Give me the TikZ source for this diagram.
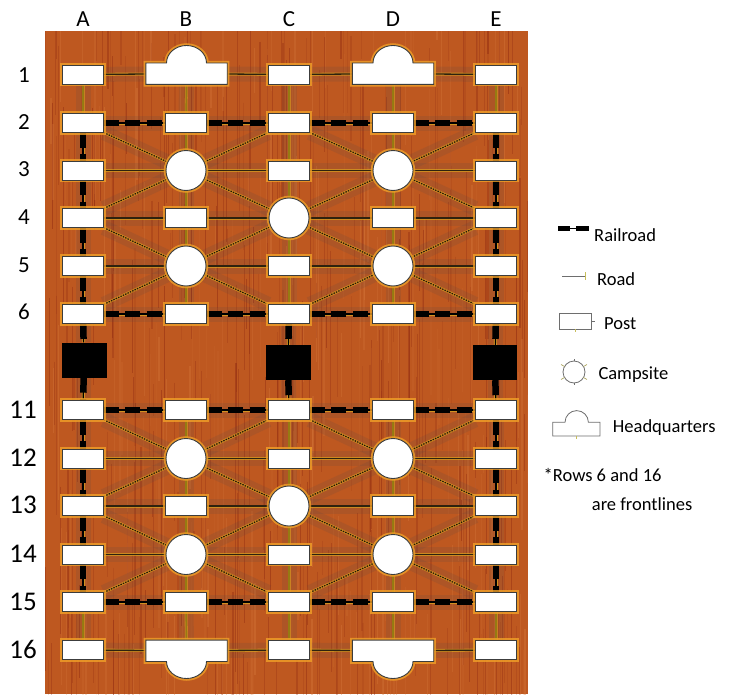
\documentclass[tikz,border=0pt]{standalone}
\usepackage{fontspec}
\setmainfont{Carlito}
\usetikzlibrary{calc}
\definecolor{wood}{RGB}{190,88,32}
\definecolor{grainD}{RGB}{140,38,16}
\definecolor{grainL}{RGB}{214,120,60}
\definecolor{glowY}{RGB}{226,172,30}
\definecolor{glowO}{RGB}{240,160,40}
\definecolor{roadC}{RGB}{46,34,14}
\definecolor{vroadC}{RGB}{150,122,18}
\definecolor{dotC}{RGB}{34,22,6}
\definecolor{boxC}{RGB}{60,60,60}
\definecolor{haloC}{RGB}{90,70,70}
\definecolor{legC}{RGB}{110,110,110}
\definecolor{tickC}{RGB}{200,190,90}
\pgfdeclarelayer{woodlayer}
\pgfdeclarelayer{halolayer}
\pgfdeclarelayer{linelayer}
\pgfsetlayers{woodlayer,halolayer,linelayer,main}
\tikzset{
  post/.style={rectangle, fill=white, draw=boxC, line width=0.9pt,
    minimum width=41pt, minimum height=19pt, inner sep=0pt,
    preaction={draw=glowO, line width=4.5pt, draw opacity=0.8}},
  camp/.style={circle, fill=white, draw=boxC, line width=0.9pt,
    minimum size=40pt, inner sep=0pt,
    preaction={draw=glowO, line width=4.5pt, draw opacity=0.8}},
  hq/.style={rectangle, draw=none, fill=none, minimum width=81pt,
    minimum height=21pt, inner sep=0pt},
  hqshape/.style={fill=white, draw=boxC, line width=0.9pt,
    preaction={draw=glowO, line width=4.5pt, draw opacity=0.8}},
  kbox/.style={rectangle, fill=black, minimum width=45pt,
    minimum height=35pt, inner sep=0pt},
  halo/.style={draw=haloC, line width=15pt, draw opacity=0.16},
  road/.style={draw=roadC, line width=1.3pt,
    preaction={draw=glowY, line width=3pt, draw opacity=0.6}},
  vroad/.style={draw=vroadC, line width=1.4pt,
    preaction={draw=glowY, line width=3pt, draw opacity=0.5}},
  rail/.style={draw=black, line width=6.5pt, dash pattern=on 15pt off 6.5pt,
    preaction={draw=glowY, solid, line width=3pt, draw opacity=0.7},
    preaction={draw=black, solid, line width=1.2pt}},
  dots/.style={draw=dotC, line width=1.2pt, dash pattern=on 1.4pt off 1.2pt,
    preaction={draw=glowY, solid, line width=2.8pt, draw opacity=0.55}},
  lbl/.style={font=\fontsize{23}{26}\selectfont, inner sep=0pt},
  lblbig/.style={font=\fontsize{27}{30}\selectfont, inner sep=0pt},
  leg/.style={font=\fontsize{18.5}{21}\selectfont, inner sep=0pt, anchor=base west},
  legshape/.style={draw=legC, line width=0.8pt, fill=white},
}
\begin{document}
\begin{tikzpicture}[x=1pt,y=-1pt]
\useasboundingbox (0,0) rectangle (737,696);

% ---------- wood board ----------
\begin{pgfonlayer}{woodlayer}
\begin{scope}
\clip (45,31) rectangle (528,694);
\fill[wood] (45,31) rectangle (528,694);
\pgfmathsetseed{11}
\foreach \i in {1,...,320}{
  \pgfmathsetmacro\xx{45+483*rnd}
  \pgfmathsetmacro\yy{-100+763*rnd}
  \pgfmathsetmacro\ll{30+220*rnd}
  \pgfmathsetmacro\ww{0.4+1.2*rnd}
  \pgfmathsetmacro\oo{0.12+0.33*rnd}
  \draw[grainD, line width=\ww pt, opacity=\oo] (\xx,\yy) -- (\xx,\yy+\ll);
}
\foreach \i in {1,...,200}{
  \pgfmathsetmacro\xx{45+483*rnd}
  \pgfmathsetmacro\yy{-100+763*rnd}
  \pgfmathsetmacro\ll{30+200*rnd}
  \pgfmathsetmacro\ww{0.5+1.4*rnd}
  \pgfmathsetmacro\oo{0.1+0.3*rnd}
  \draw[grainL, line width=\ww pt, opacity=\oo] (\xx,\yy) -- (\xx,\yy+\ll);
}
\end{scope}
\end{pgfonlayer}

% ---------- labels ----------
\foreach \c/\x in {A/83,B/186,C/289,D/393,E/496}
  \node[lbl] (col\c) at (\x,19) {\c};
\foreach \r/\y in {1/75.5,2/122,3/169.5,4/217,5/265,6/312}
  \node[lbl] (row\r) at (24,\y) {\r};
\foreach \r/\y in {11/410,12/457.5,13/505,14/553.5,15/601.5,16/649.5}
  \node[lblbig] (row\r) at (23,\y) {\r};

% ---------- nodes ----------
% row 1
\node[post] (A1) at (83,74.5) {};
\node[hq]   (B1) at (186.5,73.7) {};
\node[post] (C1) at (289,74.5) {};
\node[hq]   (D1) at (393,73.7) {};
\node[post] (E1) at (496,74.5) {};
% all-post rows
\foreach \r/\y in {2/123,6/314,11/410,15/602}{
  \foreach \c/\x in {A/83,B/186,C/289,D/393,E/496}
    \node[post] (\c\r) at (\x,\y) {};
}
% camp rows (B, D camps)
\foreach \r/\y in {3/170.5,5/266,12/458.5,14/554.5}{
  \node[post] (A\r) at (83,\y) {};
  \node[camp] (B\r) at (186,\y) {};
  \node[post] (C\r) at (289,\y) {};
  \node[camp] (D\r) at (393,\y) {};
  \node[post] (E\r) at (496,\y) {};
}
% centre camp rows
\foreach \r/\y in {4/218,13/506}{
  \node[post] (A\r) at (83,\y) {};
  \node[post] (B\r) at (186,\y) {};
  \node[camp] (C\r) at (289,\y) {};
  \node[post] (D\r) at (393,\y) {};
  \node[post] (E\r) at (496,\y) {};
}
% row 16
\node[post] (A16) at (83,650) {};
\node[hq]   (B16) at (186.5,650.8) {};
\node[post] (C16) at (289,650) {};
\node[hq]   (D16) at (393,650.8) {};
\node[post] (E16) at (496,650) {};
% black blocks
\node[kbox] (KA) at (84,360) {};
\node[kbox] (KC) at (288,362.5) {};
\node[kbox, minimum width=44pt] (KE) at (495,362.5) {};

% headquarters outlines
\foreach \n in {B1,D1}
  \path[hqshape] (\n.south west) -- (\n.north west) -- ([xshift=-20pt]\n.north)
    arc[start angle=180, end angle=0, x radius=20pt, y radius=17.5pt]
    -- (\n.north east) -- (\n.south east) -- cycle;
\foreach \n in {B16,D16}
  \path[hqshape] (\n.north west) -- (\n.south west) -- ([xshift=-20pt]\n.south)
    arc[start angle=180, end angle=360, x radius=20pt, y radius=17pt]
    -- (\n.south east) -- (\n.north east) -- cycle;

% ---------- connector lists ----------
\def\roadlist{A1/B1,B1/C1,C1/D1,D1/E1,
  A3/B3,B3/C3,C3/D3,D3/E3,A4/B4,B4/C4,C4/D4,D4/E4,A5/B5,B5/C5,C5/D5,D5/E5,
  A12/B12,B12/C12,C12/D12,D12/E12,A13/B13,B13/C13,C13/D13,D13/E13,
  A14/B14,B14/C14,C14/D14,D14/E14,A16/B16,B16/C16,C16/D16,D16/E16}
\def\vroadlist{A1/A2,B1/B2,C1/C2,D1/D2,E1/E2,
  B2/B3,B3/B4,B4/B5,B5/B6,C2/C3,C3/C4,C4/C5,C5/C6,D2/D3,D3/D4,D4/D5,D5/D6,
  B11/B12,B12/B13,B13/B14,B14/B15,B15/B16,C11/C12,C12/C13,C13/C14,C14/C15,C15/C16,
  D11/D12,D12/D13,D13/D14,D14/D15,D15/D16,A15/A16,E15/E16}
\def\raillist{A2/B2,B2/C2,C2/D2,D2/E2,A6/B6,B6/C6,C6/D6,D6/E6,
  A11/B11,B11/C11,C11/D11,D11/E11,A15/B15,B15/C15,C15/D15,D15/E15,
  A2/A3,A3/A4,A4/A5,A5/A6,A6/KA,KA/A11,A11/A12,A12/A13,A13/A14,A14/A15,
  E2/E3,E3/E4,E4/E5,E5/E6,E6/KE,KE/E11,E11/E12,E12/E13,E13/E14,E14/E15,
  C6/KC,KC/C11}
\def\dotlist{A2/B3,B3/C2,C2/D3,D3/E2,A4/B3,B3/C4,C4/D3,D3/E4,
  A4/B5,B5/C4,C4/D5,D5/E4,A6/B5,B5/C6,C6/D5,D5/E6,
  A11/B12,B12/C11,C11/D12,D12/E11,A13/B12,B12/C13,C13/D12,D12/E13,
  A13/B14,B14/C13,C13/D14,D14/E13,A15/B14,B14/C15,C15/D14,D14/E15}

\begin{pgfonlayer}{halolayer}
\foreach \p/\q in \roadlist {\draw[halo] (\p) -- (\q);}
\foreach \p/\q in \vroadlist {\draw[halo] (\p) -- (\q);}
\foreach \p/\q in \raillist {\draw[halo] (\p) -- (\q);}
\foreach \p/\q in \dotlist {\draw[halo] (\p) -- (\q);}
\end{pgfonlayer}
\begin{pgfonlayer}{linelayer}
\foreach \p/\q in \dotlist {\draw[dots] (\p) -- (\q);}
\foreach \p/\q in \roadlist {\draw[road] (\p) -- (\q);}
\foreach \p/\q in \vroadlist {\draw[vroad] (\p) -- (\q);}
\foreach \p/\q in \raillist {\draw[rail] (\p) -- (\q);}
\end{pgfonlayer}

% ---------- legend ----------
% railroad
\draw[black, line width=1pt] (558,228) -- (589,228);
\draw[black, line width=5pt] (558,228) -- (570,228);
\draw[black, line width=5pt] (576,228) -- (589,228);
\node[leg] (tRail) at (594,241.7) {Railroad};
% road
\draw[legC, line width=1pt] (562,276) -- (585,276);
\draw[tickC, line width=0.8pt] (585,272) -- (585,280);
\node[leg] (tRoad) at (597,285) {Road};
% post
\draw[legshape] (559,313.7) rectangle (591.7,329.3);
\draw[legC, line width=0.8pt] (591.7,321.5) -- (595,321.5);
\draw[tickC, line width=0.8pt] (575,329.3) -- (575,332);
\node[leg] (tPost) at (604,329.3) {Post};
% campsite
\draw[legshape] (574,372) circle[radius=11pt];
\foreach \a in {30,150,210,330}
  \draw[tickC!70!legC, line width=0.7pt] ($(574,372)+(\a:11pt)$) -- ($(574,372)+(\a:15pt)$);
\foreach \a in {90,270}
  \draw[legC, line width=0.7pt] ($(574,372)+(\a:11pt)$) -- ($(574,372)+(\a:13pt)$);
\node[leg] (tCamp) at (598.3,379.3) {Campsite};
% headquarters
\path[legshape] (552.7,436) -- (552.7,422.3) -- (565,422.3)
  arc[start angle=180, end angle=0, x radius=11.7pt, y radius=11.7pt]
  -- (600,422.3) -- (600,436) -- cycle;
\draw[tickC, line width=0.8pt] (576.5,436) -- (576.5,438.5);
\node[leg] (tHQ) at (612.7,432.7) {Headquarters};
% note
\node[leg] (tNote1) at (543.5,481.7) {*Rows 6 and 16};
\node[leg] (tNote2) at (591.7,510) {are frontlines};
\end{tikzpicture}
\end{document}
